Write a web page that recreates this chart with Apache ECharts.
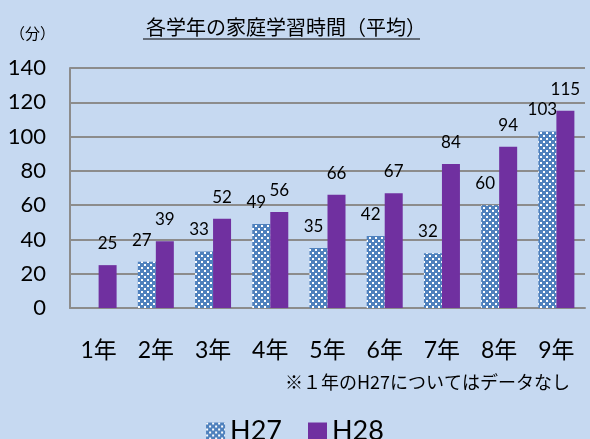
<!DOCTYPE html>
<html><head><meta charset="utf-8">
<script src="https://cdn.jsdelivr.net/npm/echarts@6/dist/echarts.min.js"></script>
<style>html,body{margin:0;padding:0;background:#C6D9F1;}#c{width:590px;height:439px;}</style>
</head><body><div id="c"></div>
<script>
const categories = ['1年','2年','3年','4年','5年','6年','7年','8年','9年'];
const h27 = [null,27,33,49,35,42,32,60,103];
const h28 = [25,39,52,56,66,67,84,94,115];
const yTicks = [0,20,40,60,80,100,120,140];

const FONT = "Lato, 'Noto Sans CJK JP', sans-serif";
const JFONT = "'Noto Sans CJK JP', sans-serif";

function makePattern(){
  const c = document.createElement('canvas');
  c.width = 6; c.height = 6;
  const g = c.getContext('2d');
  g.fillStyle = '#4F81BD'; g.fillRect(0,0,6,6);
  g.fillStyle = '#ffffff';
  g.fillRect(0,0,2,2); g.fillRect(3,3,2,2);
  return c;
}
const pat = makePattern();
const patColor = {image: pat, repeat: 'repeat'};

const chart = echarts.init(document.getElementById('c'), null, {renderer:'canvas'});
chart.setOption({
  backgroundColor: '#C6D9F1',
  animation: false,
  title: {
    text: '各学年の家庭学習時間（平均）',
    left: 281, top: 12, textAlign: 'center',
    textStyle: {fontFamily: JFONT, fontSize: 20, fontWeight: 'normal', color: '#000'}
  },
  graphic: [
    {type:'line', shape:{x1:143, y1:39, x2:420, y2:39}, style:{stroke:'#000', lineWidth:1.2}},
    {type:'text', left: 10, top: 26, style:{text:'（分）', fontFamily: JFONT, fontSize: 15, fill:'#000'}},
    {type:'text', right: 20, top: 373, style:{text:'※１年のH27についてはデータなし', fontFamily: JFONT, fontSize: 18, fill:'#000'}}
  ],
  legend: {
    data: [{name:'H27', icon:'rect', itemStyle:{color: patColor}}, {name:'H28', icon:'rect'}],
    left: 'center', top: 413,
    itemWidth: 19, itemHeight: 18, itemGap: 26,
    textStyle: {fontFamily: FONT, fontSize: 27, color:'#000'}
  },
  grid: {left: 70, right: 5, top: 68, bottom: 131},
  xAxis: {
    type: 'category', data: categories,
    axisLine: {lineStyle: {color:'#8C8C8C', width: 2}},
    axisTick: {show: false},
    axisLabel: {fontFamily: FONT, fontSize: 23, color:'#000', margin: 31}
  },
  yAxis: {
    type: 'value', min: 0, max: 140, interval: 20,
    axisLine: {show: true, lineStyle: {color:'#8C8C8C', width: 2}},
    axisTick: {show: false},
    splitLine: {lineStyle: {color:'#8C8C8C', width: 2}},
    axisLabel: {fontFamily: FONT, fontSize: 22, color:'#000', margin: 24,
      formatter: v => yTicks.includes(v) ? String(v) : ''}
  },
  series: [
    {name:'H27', type:'bar', data: h27, barWidth: 18, barGap: '0%', barCategoryGap: '37%',
      itemStyle: {color: patColor},
      label: {show: true, position: 'top', distance: 13, offset: [-5, 0], fontFamily: FONT, fontSize: 17, color:'#000'}},
    {name:'H28', type:'bar', data: h28, barWidth: 18,
      itemStyle: {color: '#7030A0'},
      label: {show: true, position: 'top', distance: 13, fontFamily: FONT, fontSize: 17, color:'#000'}}
  ]
});
</script></body></html>
